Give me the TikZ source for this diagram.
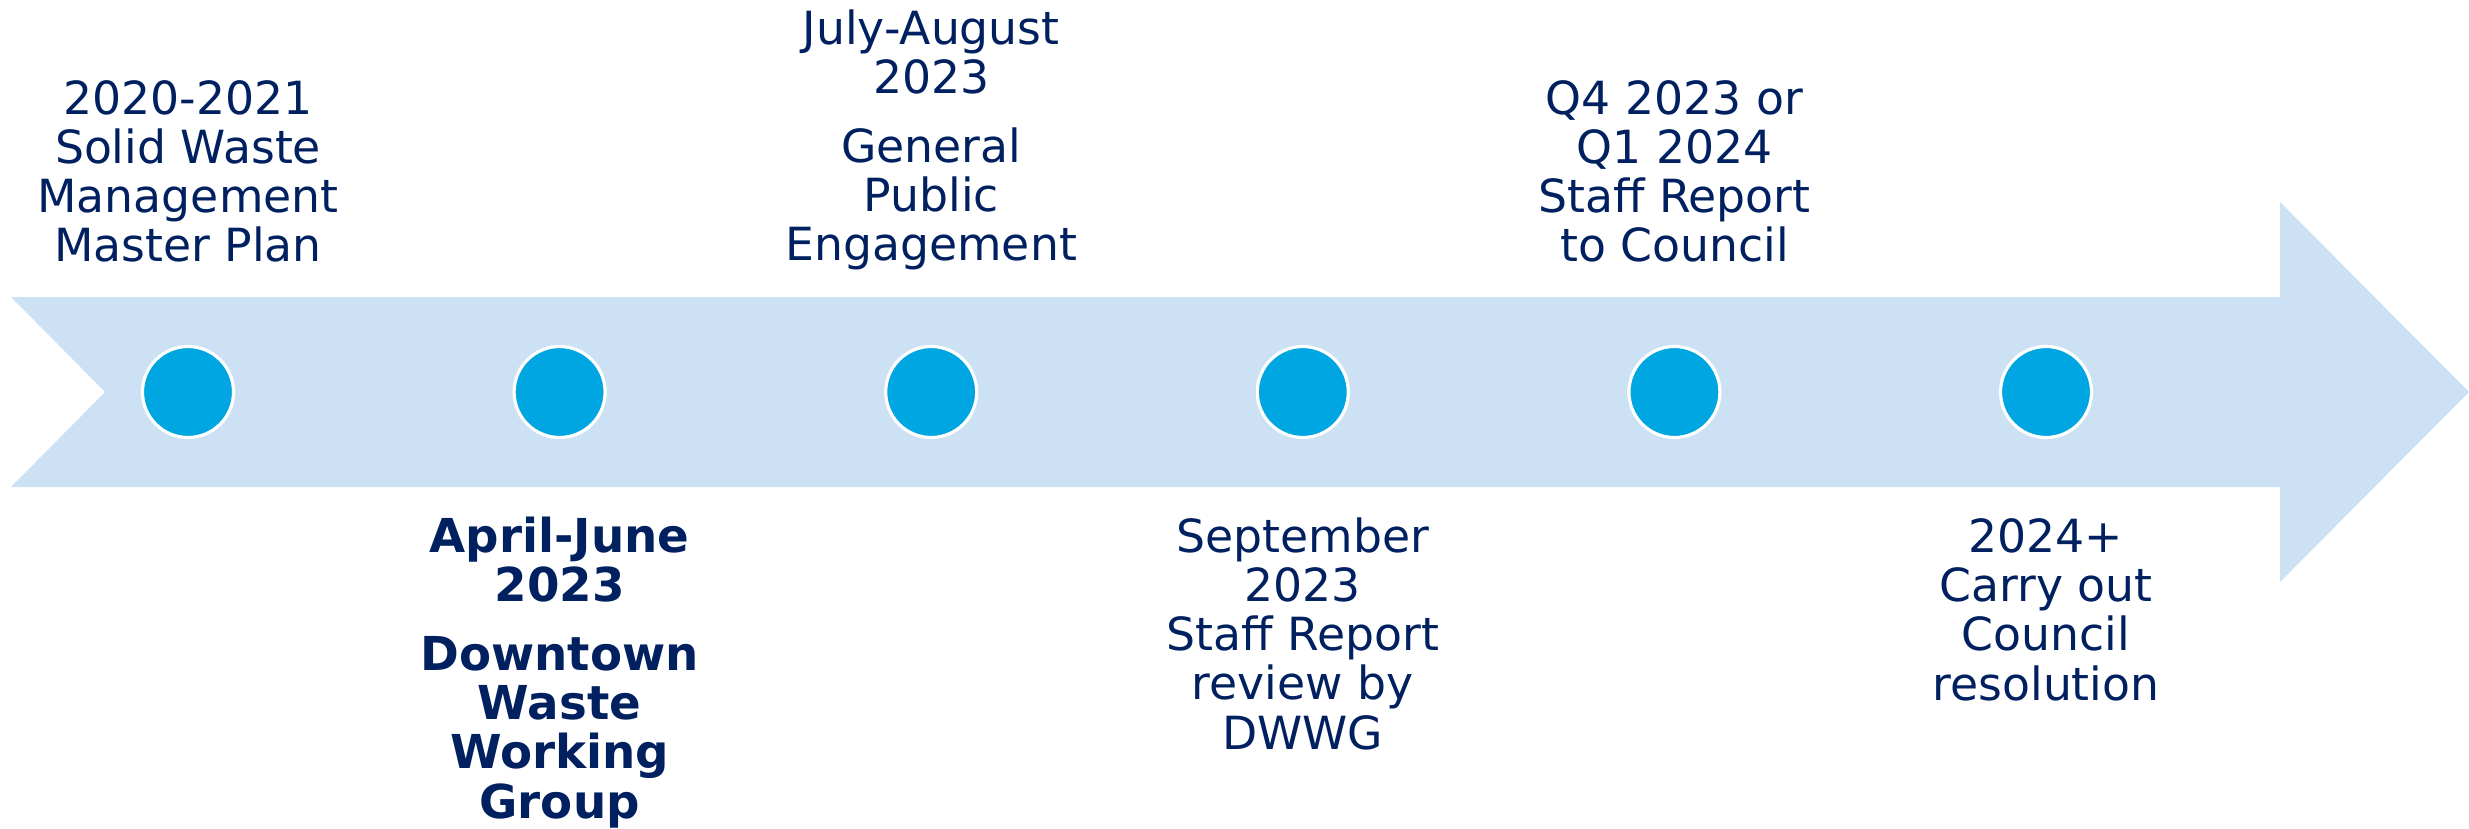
\documentclass[tikz,border=0pt]{standalone}
\usepackage{fontspec}
\setmainfont{DejaVu Sans}
\usetikzlibrary{positioning}
\definecolor{navy}{RGB}{0,32,96}
\definecolor{band}{RGB}{204,226,244}
\definecolor{dotblue}{RGB}{0,166,226}

\begin{document}
\begin{tikzpicture}[node distance=3.716cm,on grid,
  main node/.style={circle,fill=dotblue,draw=white,line width=0.9pt,minimum size=0.91cm,inner sep=0pt},
  stage/.style={align=center,text=navy,inner sep=0pt,anchor=base,font=\fontsize{13}{13.95}\selectfont}]
    \useasboundingbox (0,0) rectangle (24.69,8.28);
    % timeline band
    \fill[band] (0.11,5.31) -- (1.05,4.36) -- (0.11,3.41) -- (22.80,3.41) -- (22.80,2.46)
        -- (24.69,4.36) -- (22.80,6.26) -- (22.80,5.31) -- cycle;

    \node[main node] (1) at (1.88,4.36) {};
    \node[main node] (2) [right of=1] {};
    \node[main node] (3) [right of=2] {};
    \node[main node] (4) [right of=3] {};
    \node[main node] (5) [right of=4] {};
    \node[main node] (6) [right of=5] {};

    % labels above (base = last line)
    \node[stage] (plan) [above=1.30cm of 1,anchor=base] {2020-2021\\Solid Waste\\Management\\Master Plan};
    \node[stage] (public) [above=1.31cm of 3,anchor=base] {July-August\\2023\\[5.7pt]General\\Public\\Engagement};
    \node[stage] (council) [above=1.30cm of 5,anchor=base] {Q4 2023 or\\Q1 2024\\Staff Report\\to Council};
    % labels below
    \node[stage,font=\fontsize{13.3}{13.95}\selectfont\bfseries] (dwwg) [below=4.26cm of 2,anchor=base] {April-June\\2023\\[5.7pt]Downtown\\Waste\\Working\\Group};
    \node[stage] (review) [below=3.57cm of 4,anchor=base] {September\\2023\\Staff Report\\review by\\DWWG};
    \node[stage] (resolution) [below=3.08cm of 6,anchor=base] {2024+\\Carry out\\Council\\resolution};
\end{tikzpicture}
\end{document}
